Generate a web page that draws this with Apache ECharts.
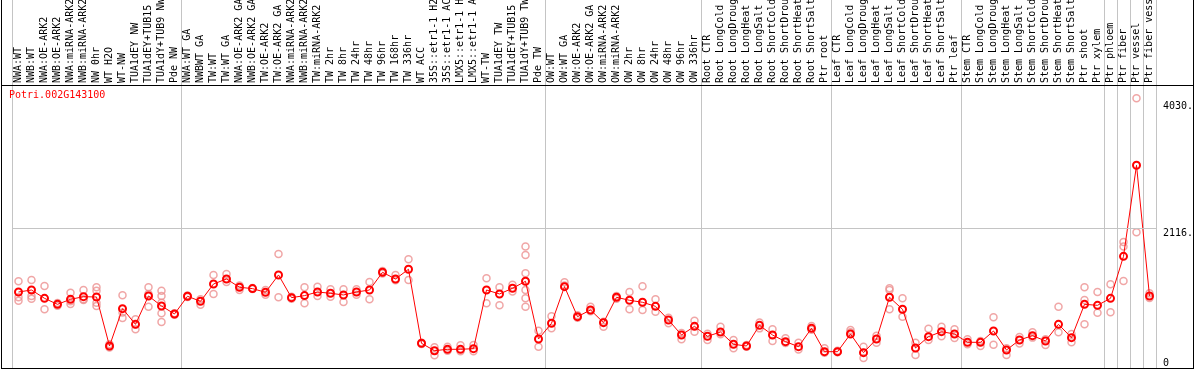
<!DOCTYPE html>
<html>
<head>
<meta charset="utf-8">
<title>Potri.002G143100</title>
<script src="https://cdn.jsdelivr.net/npm/echarts@6/dist/echarts.min.js"></script>
<style>
html, body { margin: 0; padding: 0; background: #fff; }
#frame { position: absolute; left: 1px; top: 0; width: 1193px; height: 369px; box-sizing: border-box;
  border: 1px solid #000; border-top: none; }
#rule { position: absolute; left: 0; top: 85px; width: 100%; height: 1px; background: #000; z-index: 2; }
#chart { position: absolute; left: 0; top: 0; width: 1191px; height: 368px; }
</style>
</head>
<body>
<div id="frame">
  <div id="chart"></div>
  <div id="rule"></div>
</div>
<script>
var geneName = 'Potri.002G143100';

var categories = [
  'NWA:WT', 'NWB:WT', 'NWA:OE-ARK2', 'NWB:OE-ARK2', 'NWA:miRNA-ARK2', 'NWB:miRNA-ARK2', 'NW 0hr',
  'WT H2O', 'WT-NW', 'TUA1dEY NW', 'TUA1dEY+TUB15 NW', 'TUA1dY+TUB9 NW', 'Pde NW',
  'NWA:WT GA', 'NWBWT GA', 'TW:WT', 'TW:WT GA', 'NWA:OE-ARK2 GA', 'NWB:OE-ARK2 GA', 'TW:OE-ARK2',
  'TW:OE-ARK2 GA', 'NWA:miRNA-ARK2', 'NWB:miRNA-ARK2', 'TW:miRNA-ARK2', 'TW 2hr', 'TW 8hr', 'TW 24hr',
  'TW 48hr', 'TW 96hr', 'TW 168hr', 'TW 336hr', 'WT ACC', '35S::etr1-1 H2O', '35S::etr1-1 ACC',
  'LMX5::etr1-1 H2O', 'LMX5::etr1-1 ACC', 'WT-TW', 'TUA1dEY TW', 'TUA1dEY+TUB15 TW', 'TUA1dY+TUB9 TW', 'Pde TW',
  'OW:WT', 'OW:WT GA', 'OW:OE-ARK2', 'OW:OE-ARK2 GA', 'OW:miRNA-ARK2', 'OW:miRNA-ARK2', 'OW 2hr', 'OW 8hr',
  'OW 24hr', 'OW 48hr', 'OW 96hr', 'OW 336hr',
  'Root CTR', 'Root LongCold', 'Root LongDrought', 'Root LongHeat', 'Root LongSalt', 'Root ShortCold',
  'Root ShortDrought', 'Root ShortHeat', 'Root ShortSalt', 'Ptr root',
  'Leaf CTR', 'Leaf LongCold', 'Leaf LongDrought', 'Leaf LongHeat', 'Leaf LongSalt', 'Leaf ShortCold',
  'Leaf ShortDrought', 'Leaf ShortHeat', 'Leaf ShortSalt', 'Ptr leaf',
  'Stem CTR', 'Stem LongCold', 'Stem LongDrought', 'Stem LongHeat', 'Stem LongSalt', 'Stem ShortCold',
  'Stem ShortDrought', 'Stem ShortHeat', 'Stem ShortSalt', 'Ptr shoot',
  'Ptr xylem', 'Ptr phloem', 'Ptr fiber', 'Ptr vessel', 'Ptr fiber vessel'
];

// first category of each sample group (gray separator drawn before it)
var groupStarts = [0, 13, 41, 53, 63, 73, 84, 85, 86, 87];

// mean expression per sample
var meanValues = [
  1151, 1181, 1055, 964, 1040, 1080, 1075, 333, 899, 661, 1091, 939, 818,
  1086, 1010, 1272, 1348, 1222, 1202, 1146, 1409, 1065, 1096, 1151, 1131, 1106, 1151, 1181, 1449, 1348,
  1495, 374, 262, 283, 283, 293, 1181, 1121, 1207, 1313, 439,
  677, 1232, 777, 879, 687, 1071, 1025, 995, 934, 727, 500, 631,
  480, 545, 359, 333, 646, 500, 399, 323, 601, 247,
  247, 515, 232, 439, 1071, 889, 303, 475, 550, 515,
  389, 389, 560, 273, 424, 490, 409, 661, 459, 964,
  949, 1055, 1691, 3070, 1091
];

// single replicates per sample
var replicateValues = [
  [1313, 1071, 1020], [1333, 1091, 1050], [1242, 889], [985, 944], [1141, 969, 1010], [1181, 1030, 1040],
  [1222, 1171, 989, 939], [360, 310, 330], [1101, 757, 840], [737, 586, 660], [1222, 929, 1120],
  [1171, 1091, 989, 828, 697], [828, 808],
  [1096, 1075], [959, 1040], [1409, 1121], [1424, 1303], [1181, 1250], [1210, 1195], [1181, 1110],
  [1727, 1071], [1050, 1080], [1222, 979], [1232, 1091], [1192, 1080], [1192, 1000], [1192, 1110],
  [1303, 1040], [1470, 1430], [1409, 1330], [1646, 1333], [384, 364], [313, 192], [323, 262],
  [343, 252], [348, 252], [1358, 979], [1222, 949], [1262, 1160], [1838, 1712, 1434, 1181, 1055, 929],
  [565, 323],
  [783, 601], [1298, 1250], [800, 760], [929, 860], [626, 700], [1090, 1050], [1151, 889], [1237, 879],
  [1040, 853], [676, 760], [434, 530], [717, 550],
  [424, 520], [626, 510], [424, 298], [348, 320], [690, 600], [586, 409], [450, 380], [384, 280],
  [636, 580], [298, 230],
  [260, 240], [576, 540], [323, 151], [490, 384], [1207, 1181, 889], [1055, 777], [384, 197],
  [596, 424], [626, 480], [586, 455],
  [434, 360], [410, 333], [767, 353], [197, 300], [470, 370], [540, 460], [434, 350], [929, 540],
  [515, 389], [1222, 1030, 661],
  [1151, 838], [1267, 843], [1908, 1838, 1318], [4085, 2055], [1130, 1060]
];

var yLabelValues = [2116, 4030];
var gridValue = 2116;

var repPoints = [];
replicateValues.forEach(function (reps, i) {
  reps.forEach(function (v) { repPoints.push([i, v]); });
});

function isGroupStart(index) {
  return groupStarts.indexOf(index) >= 0;
}

var monoFont = 'DejaVu Sans Mono';
var sepLine = { show: true, interval: isGroupStart, lineStyle: { color: '#c4c4c4', width: 1 } };

var myChart = echarts.init(document.getElementById('chart'));
var option = {
  animation: false,
  title: {
    text: geneName, left: 7, top: 90, padding: 0,
    textStyle: { color: '#ff0000', fontSize: 10, fontWeight: 'normal', fontFamily: monoFont }
  },
  grid: [
    { left: 10, right: 37, top: 0, height: 85, containLabel: false, outerBoundsMode: 'none' },
    { left: 10, right: 37, top: 86, bottom: 0, containLabel: false, outerBoundsMode: 'none' }
  ],
  xAxis: [
    {
      type: 'category', gridIndex: 0, data: categories,
      axisLine: { show: false }, axisTick: { show: false }, axisLabel: { show: false },
      splitLine: sepLine
    },
    {
      type: 'category', gridIndex: 1, data: categories, position: 'top',
      axisLine: { show: false }, axisTick: { show: false },
      axisLabel: { interval: 0, rotate: 90, margin: 3, color: '#000', fontSize: 10, fontFamily: monoFont },
      splitLine: sepLine
    }
  ],
  yAxis: [
    { type: 'value', gridIndex: 0, show: false },
    {
      type: 'value', gridIndex: 1, position: 'right', min: 0, max: 4270,
      axisLine: { show: false }, axisTick: { show: false }, splitLine: { show: false },
      axisLabel: {
        customValues: yLabelValues, margin: 7, verticalAlign: 'top', color: '#000',
        fontSize: 10, fontFamily: monoFont,
        formatter: function (v) { return v + '.'; }
      }
    },
    {
      type: 'value', gridIndex: 1, position: 'right', min: 0, max: 4270,
      axisLine: { show: false }, axisTick: { show: false }, splitLine: { show: false },
      axisLabel: {
        customValues: [0], margin: 7, verticalAlign: 'bottom', color: '#000',
        fontSize: 10, fontFamily: monoFont
      }
    }
  ],
  series: [
    {
      name: 'replicates', type: 'scatter', xAxisIndex: 1, yAxisIndex: 1,
      data: repPoints, symbol: 'circle', symbolSize: 7, z: 2,
      itemStyle: { color: 'rgba(0,0,0,0)', borderColor: '#ec9090', borderWidth: 1.5 }
    },
    {
      name: 'mean', type: 'line', xAxisIndex: 1, yAxisIndex: 1,
      data: meanValues, symbol: 'circle', symbolSize: 7, showAllSymbol: true, z: 3,
      lineStyle: { color: '#ff0000', width: 1 },
      itemStyle: { color: 'rgba(0,0,0,0)', borderColor: '#ff0000', borderWidth: 2 },
      markLine: {
        silent: true, symbol: 'none', label: { show: false },
        lineStyle: { color: '#c4c4c4', width: 1, type: 'solid' },
        data: [{ yAxis: gridValue }]
      }
    }
  ]
};
myChart.setOption(option);
</script>
</body>
</html>
